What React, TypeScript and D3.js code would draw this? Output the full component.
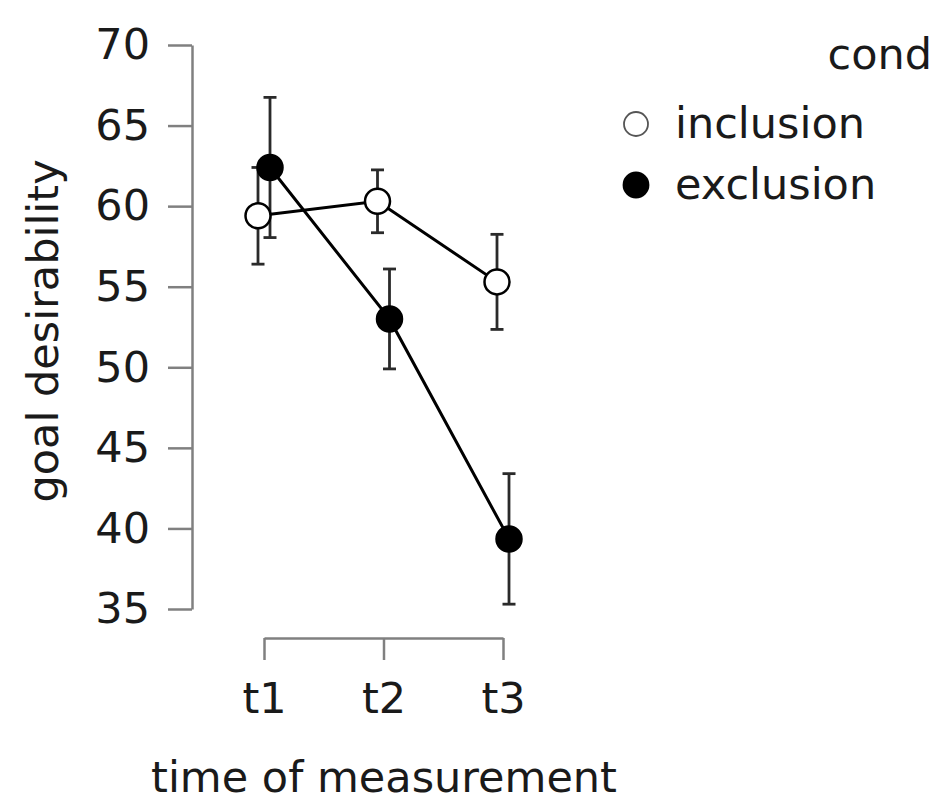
import React, { useEffect, useRef } from "react";
import * as d3 from "d3";

const times = ["t1", "t2", "t3"];
const conditions = ["inclusion", "exclusion"];
const inclusionMean = [59.4, 60.3, 55.3];
const inclusionErr = [3.0, 1.95, 2.95];
const exclusionMean = [62.4, 53.0, 39.35];
const exclusionErr = [4.35, 3.1, 4.05];
const yTicks = [35, 40, 45, 50, 55, 60, 65, 70];

const W = 939;
const H = 802;
const FONT = "'DejaVu Sans', sans-serif";
const FS = 43;

export default function App() {
  const ref = useRef<SVGSVGElement | null>(null);

  useEffect(() => {
    document.body.style.margin = "0";
    const svg = d3.select(ref.current);
    svg.selectAll("*").remove();

    const y = d3.scaleLinear().domain([35, 70]).range([609, 45]);
    const x = d3.scalePoint<string>().domain(times).range([264, 503]);
    const dodge = d3.scalePoint<string>().domain(conditions).range([-6, 6]);

    // Y axis
    const yAxis = d3
      .axisLeft(y)
      .tickValues(yTicks)
      .tickSize(24)
      .tickSizeOuter(0)
      .tickPadding(18)
      .tickFormat(d3.format("d"));
    const gy = svg.append("g").attr("transform", "translate(192,0)").call(yAxis);
    gy.selectAll("path,line").attr("stroke", "#808080").attr("stroke-width", 2.5);
    gy.selectAll("text")
      .attr("font-family", FONT)
      .attr("font-size", FS)
      .attr("fill", "#1a1a1a");

    // X axis
    const xAxis = d3.axisBottom(x).tickSize(22).tickSizeOuter(0).tickPadding(22);
    const gx = svg.append("g").attr("transform", "translate(0,638)").call(xAxis);
    gx.selectAll("path,line").attr("stroke", "#808080").attr("stroke-width", 2.5);
    gx.selectAll("text")
      .attr("font-family", FONT)
      .attr("font-size", FS)
      .attr("fill", "#1a1a1a");

    // Axis titles
    svg
      .append("text")
      .attr("x", 384)
      .attr("y", 792)
      .attr("text-anchor", "middle")
      .attr("font-family", FONT)
      .attr("font-size", FS)
      .attr("fill", "#1a1a1a")
      .text("time of measurement");
    svg
      .append("text")
      .attr("transform", "translate(58,331) rotate(-90)")
      .attr("text-anchor", "middle")
      .attr("font-family", FONT)
      .attr("font-size", FS)
      .attr("fill", "#1a1a1a")
      .text("goal desirability");

    const series = [
      { name: "inclusion", mean: inclusionMean, err: inclusionErr, fill: "#ffffff" },
      { name: "exclusion", mean: exclusionMean, err: exclusionErr, fill: "#000000" },
    ];

    series.forEach((s) => {
      const off = dodge(s.name) as number;
      const g = svg.append("g");
      s.mean.forEach((m, i) => {
        const cx = (x(times[i]) as number) + off;
        const y1 = y(m + s.err[i]);
        const y2 = y(m - s.err[i]);
        g.append("line").attr("x1", cx).attr("x2", cx).attr("y1", y1).attr("y2", y2)
          .attr("stroke", "#2a2a2a").attr("stroke-width", 2.8);
        [y1, y2].forEach((yy) =>
          g.append("line").attr("x1", cx - 6.5).attr("x2", cx + 6.5).attr("y1", yy).attr("y2", yy)
            .attr("stroke", "#2a2a2a").attr("stroke-width", 2.8)
        );
      });
    });

    series.forEach((s) => {
      const off = dodge(s.name) as number;
      const l = d3
        .line<number>()
        .x((_, i) => (x(times[i]) as number) + off)
        .y((d) => y(d));
      svg.append("path").attr("d", l(s.mean) as string).attr("fill", "none")
        .attr("stroke", "#000").attr("stroke-width", 3);
    });

    series.forEach((s) => {
      const off = dodge(s.name) as number;
      svg.append("g").selectAll("circle").data(s.mean).join("circle")
        .attr("cx", (_, i) => (x(times[i]) as number) + off)
        .attr("cy", (d) => y(d))
        .attr("r", 12.5)
        .attr("fill", s.fill)
        .attr("stroke", "#000")
        .attr("stroke-width", 2.5);
    });

    // Legend
    svg.append("text").attr("x", 932).attr("y", 69).attr("text-anchor", "end")
      .attr("font-family", FONT).attr("font-size", FS).attr("fill", "#1a1a1a").text("cond");
    const legendY = d3.scalePoint<string>().domain(conditions).range([124, 185]);
    series.forEach((s) => {
      const cy = legendY(s.name) as number;
      svg.append("circle").attr("cx", 636).attr("cy", cy).attr("r", s.name === "inclusion" ? 12 : 12.5)
        .attr("fill", s.fill).attr("stroke", s.name === "inclusion" ? "#555" : "#000")
        .attr("stroke-width", 1.8);
      svg.append("text").attr("x", 675).attr("y", cy + 14).attr("font-family", FONT)
        .attr("font-size", FS).attr("fill", "#1a1a1a").text(s.name);
    });
  }, []);

  return (
    <svg
      ref={ref}
      width={W}
      height={H}
      style={{ position: "absolute", left: 0, top: 0, background: "#fff" }}
    />
  );
}
